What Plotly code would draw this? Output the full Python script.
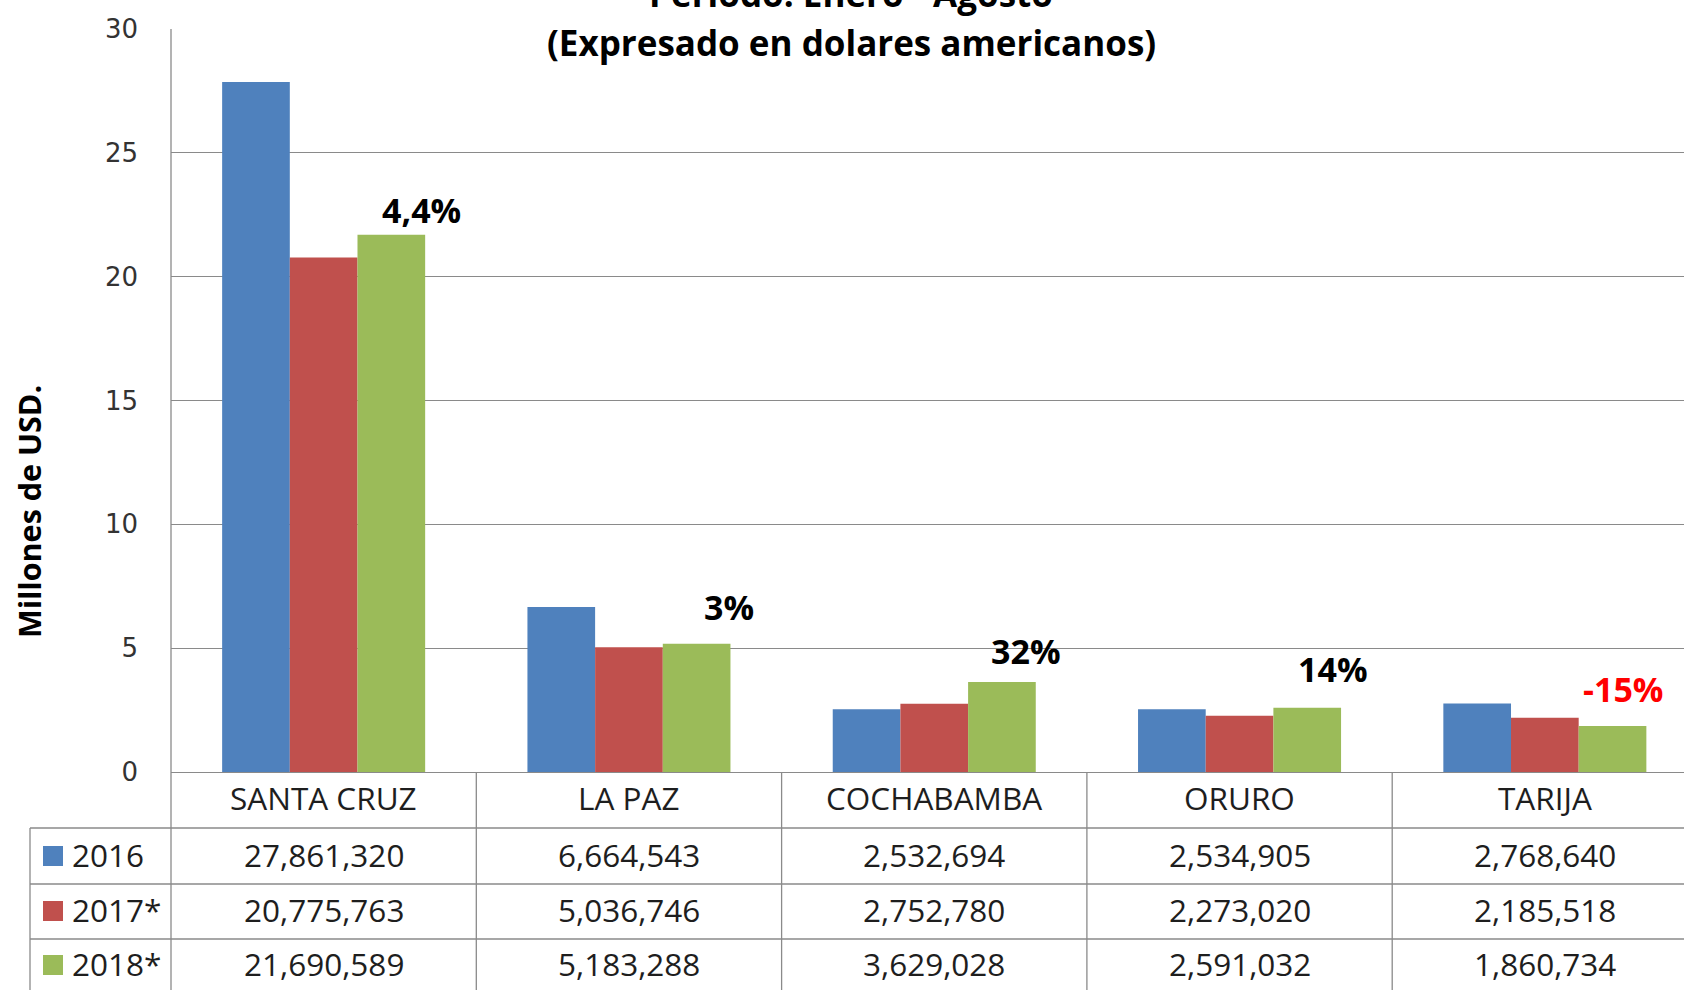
import plotly.graph_objects as go

# ---------------- data ----------------
categories = ["SANTA CRUZ", "LA PAZ", "COCHABAMBA", "ORURO", "TARIJA"]
series_names = ["2016", "2017*", "2018*"]
v2016 = [27861320, 6664543, 2532694, 2534905, 2768640]
v2017 = [20775763, 5036746, 2752780, 2273020, 2185518]
v2018 = [21690589, 5183288, 3629028, 2591032, 1860734]
pct_labels = ["4,4%", "3%", "32%", "14%", "-15%"]
pct_colors = ["#000000", "#000000", "#000000", "#000000", "#FF0000"]
y_ticks = [0, 5, 10, 15, 20, 25, 30]

# ---------------- style / layout ----------------
colors = ["#4F81BD", "#C0504D", "#9BBB59"]
W, H = 1684, 990
L, R, T, B = 171, 1684, 29, 772
COLW = 305.3                     # pixel width of one category column
X_END = -0.5 + (R - L) / COLW    # chart is cropped at the right edge
GRID = "#8A8A8A"
TXT = "#1E1E1E"
TABLE_FONT = "Open Sans"
TS = 31.5
label_xshift = [98, 100, 92, 93, 78]
label_yshift = [25, 37, 31, 39, 37]


def px_x(px):
    return (px - L) / (R - L)


def px_y(py):
    return (B - py) / (B - T)


all_series = [v2016, v2017, v2018]

fig = go.Figure()
for name, vals, col in zip(series_names, all_series, colors):
    fig.add_trace(go.Bar(
        x=categories, y=[v / 1e6 for v in vals], name=name,
        marker=dict(color=col, line=dict(width=0)),
        showlegend=False,
    ))

shapes = []
annotations = []

# table horizontal lines
for py in [828, 884, 939]:
    shapes.append(dict(type="line", xref="paper", yref="paper",
                       x0=px_x(30), x1=1, y0=px_y(py), y1=px_y(py),
                       line=dict(color=GRID, width=1.3)))
# left border of legend column
shapes.append(dict(type="line", xref="paper", yref="paper",
                   x0=px_x(30), x1=px_x(30), y0=px_y(828), y1=px_y(H + 5),
                   line=dict(color=GRID, width=1.3)))
# plot left border extended through table
shapes.append(dict(type="line", xref="paper", yref="paper",
                   x0=0, x1=0, y0=1, y1=px_y(H + 5),
                   line=dict(color=GRID, width=1.3)))
# column separators
for i in range(len(categories) - 1):
    shapes.append(dict(type="line", xref="x", yref="paper",
                       x0=i + 0.5, x1=i + 0.5, y0=0, y1=px_y(H + 5),
                       line=dict(color=GRID, width=1.3)))

row_centers = [798, 854, 909, 963]
# category labels
for c in categories:
    annotations.append(dict(x=c, xref="x", y=px_y(row_centers[0]), yref="paper",
                            text=c, showarrow=False, yanchor="middle",
                            font=dict(family=TABLE_FONT, size=TS, color=TXT)))
# values + legend keys
for r, (name, vals, col) in enumerate(zip(series_names, all_series, colors)):
    yc = row_centers[r + 1]
    for c, v in zip(categories, vals):
        annotations.append(dict(x=c, xref="x", y=px_y(yc), yref="paper",
                                text=f"{v:,}", showarrow=False, yanchor="middle",
                                font=dict(family=TABLE_FONT, size=TS, color=TXT)))
    shapes.append(dict(type="rect", xref="paper", yref="paper",
                       x0=px_x(43), x1=px_x(63), y0=px_y(yc + 12), y1=px_y(yc - 8),
                       fillcolor=col, line=dict(width=0)))
    annotations.append(dict(x=px_x(70), xref="paper", y=px_y(yc), yref="paper",
                            text=name, showarrow=False, xanchor="left", yanchor="middle",
                            font=dict(family=TABLE_FONT, size=TS, color=TXT)))

# percentage labels
for c, v, t, col, xs, ys in zip(categories, v2018, pct_labels, pct_colors,
                                label_xshift, label_yshift):
    annotations.append(dict(x=c, xref="x", y=v / 1e6, yref="y", text=f"<b>{t}</b>",
                            showarrow=False, xshift=xs, yshift=ys, yanchor="middle",
                            font=dict(family=TABLE_FONT, size=34, color=col)))

# title lines (first line is partially cropped at the top, as in the source image)
annotations.append(dict(x=px_x(851), xref="paper", y=px_y(-6), yref="paper",
                        text="<b>Periodo: Enero - Agosto</b>", showarrow=False,
                        yanchor="middle", font=dict(family=TABLE_FONT, size=35, color="#000")))
annotations.append(dict(x=px_x(851), xref="paper", y=px_y(43), yref="paper",
                        text="<b>(Expresado en dolares americanos)</b>", showarrow=False,
                        yanchor="middle", font=dict(family=TABLE_FONT, size=35, color="#000")))
# y title
annotations.append(dict(x=px_x(29), xref="paper", y=px_y(512), yref="paper",
                        text="<b>Millones de USD.</b>", showarrow=False, textangle=-90,
                        xanchor="center", yanchor="middle",
                        font=dict(family=TABLE_FONT, size=30.5, color="#000")))

fig.update_layout(
    width=W, height=H,
    margin=dict(l=L, r=W - R, t=T, b=H - B, pad=0),
    paper_bgcolor="white", plot_bgcolor="white",
    barmode="group", bargap=0.335, bargroupgap=0,
    shapes=shapes, annotations=annotations,
    xaxis=dict(range=[-0.5, X_END], showticklabels=False,
               showgrid=False, zeroline=False, showline=False, fixedrange=True),
    yaxis=dict(range=[0, 30], tickvals=y_ticks, showgrid=True, gridcolor=GRID, gridwidth=1.3,
               zeroline=True, zerolinecolor=GRID, zerolinewidth=1.3,
               showline=False, ticks="", ticklabelstandoff=32,
               tickfont=dict(family="DejaVu Sans", size=26, color="#333333")),
)

fig.write_html("out.html", config={"displayModeBar": False},
               post_script="document.body.style.margin='0';")
